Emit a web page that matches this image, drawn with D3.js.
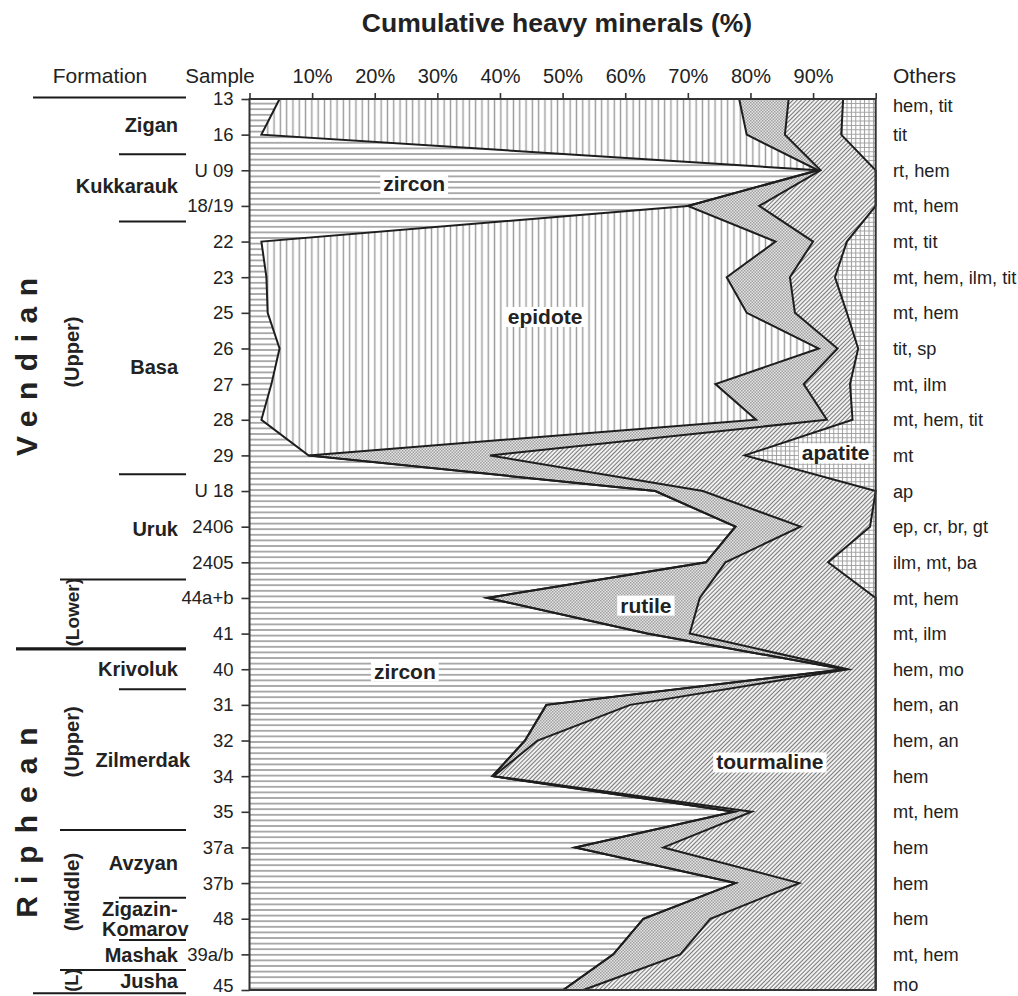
<!DOCTYPE html>
<html><head><meta charset="utf-8">
<script src="https://cdn.jsdelivr.net/npm/d3@7"></script>
<style>
body{margin:0;background:#fff;}
svg{display:block;font-family:"Liberation Sans",Arial,Helvetica,sans-serif;}
</style>
</head><body>
<svg id="chart" width="1018" height="996"></svg>
<script>
// ---------- data ----------
const samples = ["13","16","U 09","18/19","22","23","25","26","27","28","29","U 18","2406","2405","44a+b","41","40","31","32","34","35","37a","37b","48","39a/b","45"];
const zircon     = [4.8,1.9,90.8,70.0,1.9,2.7,2.9,4.8,3.5,1.9,9.4,64.8,77.6,72.9,38.0,63.5,95.0,47.4,44.0,38.8,77.4,52.0,77.6,62.9,58.1,50.1];
const epidote    = [73.4,77.5,0,0,82.1,73.5,76.5,86.1,70.9,79.0,0,0,0,0,0,0,0,0,0,0,0,0,0,0,0,0];
const rutile     = [7.9,6.1,0.4,11.4,6.0,10.1,7.7,3.0,14.1,11.3,29.0,7.6,10.4,3.1,33.9,6.8,0.6,13.4,2.0,0.2,2.8,14.1,10.2,10.7,10.7,3.2];
const tourmaline = [8.7,9.0,8.8,18.6,5.4,7.2,8.3,3.3,7.4,4.1,40.7,27.6,11.1,16.4,28.1,29.7,4.4,39.2,54.0,61.0,19.8,33.9,12.2,26.4,31.2,46.7];
const apatite    = [5.2,5.5,0,0,4.6,6.5,4.6,2.8,4.1,3.7,20.9,0,0.9,7.6,0,0,0,0,0,0,0,0,0,0,0,0];
const others = ["hem, tit","tit","rt, hem","mt, hem","mt, tit","mt, hem, ilm, tit","mt, hem","tit, sp","mt, ilm","mt, hem, tit","mt","ap","ep, cr, br, gt","ilm, mt, ba","mt, hem","mt, ilm","hem, mo","hem, an","hem, an","hem","mt, hem","hem","hem","hem","mt, hem","mo"];
const xTickValues = [0,10,20,30,40,50,60,70,80,90,100];
const formations = ["Zigan","Kukkarauk","Basa","Uruk","Krivoluk","Zilmerdak","Avzyan","Zigazin-|Komarov","Mashak","Jusha"];
const minerals = ["zircon","epidote","rutile","tourmaline","apatite"];

// ---------- layout ----------
const svg = d3.select("#chart");
const x = d3.scaleLinear().domain([0,100]).range([249.5, 875.7]);
const y = d3.scalePoint().domain(samples).range([99, 990]);
const step = y.step();
const yAt = i => y.range()[0] + i*step;

// ---------- patterns ----------
const defs = svg.append("defs");
function pattern(id, w, h, tr){
  const p = defs.append("pattern").attr("id", id).attr("patternUnits","userSpaceOnUse")
    .attr("width", w).attr("height", h);
  if (tr) p.attr("patternTransform", tr);
  return p;
}
let p;
p = pattern("p-zircon", 8, 5.6);
p.append("rect").attr("width",8).attr("height",5.6).attr("fill","#fff");
p.append("line").attr("x1",0).attr("x2",8).attr("y1",2.8).attr("y2",2.8).attr("stroke","#9a9a9a").attr("stroke-width",1.6);

p = pattern("p-epidote", 6.3, 8);
p.append("rect").attr("width",6.3).attr("height",8).attr("fill","#fff");
p.append("line").attr("x1",3.15).attr("x2",3.15).attr("y1",0).attr("y2",8).attr("stroke","#9a9a9a").attr("stroke-width",1.4);

p = pattern("p-rutile", 3, 3);
p.append("rect").attr("width",3).attr("height",3).attr("fill","#e4e4e4");
p.append("rect").attr("width",1.5).attr("height",1.5).attr("fill","#a0a0a0");
p.append("rect").attr("x",1.5).attr("y",1.5).attr("width",1.5).attr("height",1.5).attr("fill","#a0a0a0");

p = pattern("p-tourmaline", 3, 8, "rotate(45)");
p.append("rect").attr("width",3).attr("height",8).attr("fill","#f0f0f0");
p.append("line").attr("x1",1.5).attr("x2",1.5).attr("y1",0).attr("y2",8).attr("stroke","#7a7a7a").attr("stroke-width",1);

p = pattern("p-apatite", 4.4, 4.4);
p.append("rect").attr("width",4.4).attr("height",4.4).attr("fill","#fff");
p.append("path").attr("d","M0,2.2H4.4M2.2,0V4.4").attr("stroke","#9c9c9c").attr("stroke-width",1);

// ---------- stacked areas ----------
const rows = samples.map((s,i)=>({sample:s, zircon:zircon[i], epidote:epidote[i], rutile:rutile[i], tourmaline:tourmaline[i], apatite:apatite[i]}));
const series = d3.stack().keys(minerals)(rows);

const area = d3.area().y(d=>y(d.data.sample)).x0(d=>x(d[0])).x1(d=>x(d[1]));
const line = d3.line().y(d=>y(d.data.sample)).x(d=>x(d[1]));

const plot = svg.append("g");
plot.selectAll("path.area").data(series).join("path")
  .attr("class","area")
  .attr("d", area)
  .attr("fill", d=>`url(#p-${d.key})`);

plot.selectAll("path.bound").data(series.slice(0,4)).join("path")
  .attr("class","bound")
  .attr("d", line)
  .attr("fill","none").attr("stroke","#1e1e1e").attr("stroke-width",2)
  .attr("stroke-linejoin","miter").attr("stroke-miterlimit",6);

// frame
svg.append("rect")
  .attr("x", x(0)).attr("y", y(samples[0]))
  .attr("width", x(100)-x(0)).attr("height", y(samples[samples.length-1])-y(samples[0]))
  .attr("fill","none").attr("stroke","#333").attr("stroke-width",2);

// ---------- axes ----------
const topAxis = svg.append("g").attr("transform",`translate(0,${y(samples[0])})`)
  .call(d3.axisTop(x).tickValues(xTickValues).tickSize(6).tickPadding(10)
    .tickFormat(d => (d>0 && d<100) ? d+"%" : ""));
topAxis.select(".domain").remove();
topAxis.selectAll(".tick line").attr("stroke","#333").attr("stroke-width",1.6);
topAxis.selectAll(".tick text").attr("font-size",20).attr("fill","#222").attr("font-family",null);

const leftAxis = svg.append("g").attr("transform",`translate(${x(0)},0)`)
  .call(d3.axisLeft(y).tickSize(8).tickPadding(8));
leftAxis.select(".domain").remove();
leftAxis.selectAll(".tick line").attr("stroke","#333").attr("stroke-width",1.6);
leftAxis.selectAll(".tick text").attr("font-size",18.5).attr("fill","#222").attr("font-family",null)
  .attr("y", (d,i)=> i===samples.length-1 ? -4 : 0);

// ---------- headers ----------
svg.append("text").attr("x",557).attr("y",32).attr("text-anchor","middle")
  .attr("font-size",26.5).attr("font-weight","bold").attr("fill","#222")
  .text("Cumulative heavy minerals (%)");
svg.append("text").attr("x",100).attr("y",83).attr("text-anchor","middle")
  .attr("font-size",21).attr("fill","#222").text("Formation");
svg.append("text").attr("x",220).attr("y",83).attr("text-anchor","middle")
  .attr("font-size",20.5).attr("fill","#222").text("Sample");
svg.append("text").attr("x",893).attr("y",83)
  .attr("font-size",21).attr("fill","#222").text("Others");

// others column
svg.append("g").selectAll("text").data(others).join("text")
  .attr("x",893).attr("y",(d,i)=>y(samples[i]) + (i===0?6:0) + (i===others.length-1?-6:0)).attr("dy","0.36em")
  .attr("font-size",18.2).attr("fill","#222").text(d=>d);

// ---------- stratigraphy column ----------
const strat = svg.append("g");
const divisions = [
  {i:-0.04, x1:33, w:2}, {i:1.55, x1:119, w:2}, {i:3.44, x1:119, w:2}, {i:10.53, x1:119, w:2},
  {i:13.48, x1:60, w:2}, {i:15.43, x1:16, w:3.2}, {i:16.56, x1:119, w:2}, {i:20.51, x1:60, w:2},
  {i:22.41, x1:119, w:2}, {i:23.6, x1:119, w:2}, {i:24.44, x1:60, w:2}, {i:25.09, x1:33, w:2}
];
strat.selectAll("line").data(divisions).join("line")
  .attr("x1",d=>d.x1).attr("x2",186)
  .attr("y1",d=>yAt(d.i)).attr("y2",d=>yAt(d.i))
  .attr("stroke","#1a1a1a").attr("stroke-width",d=>d.w);

const formPos = [
  {i:0.73, x:178, a:"end"}, {i:2.44, x:178, a:"end"}, {i:7.52, x:178, a:"end"}, {i:12.06, x:178, a:"end"},
  {i:16.0, x:178, a:"end"}, {i:18.55, x:190, a:"end"}, {i:21.44, x:178, a:"end"}, {i:23.0, x:102, a:"start"},
  {i:24.0, x:178, a:"end"}, {i:24.75, x:178, a:"end"}
];
formations.forEach((name,k)=>{
  const pz = formPos[k];
  const parts = name.split("|");
  const t = strat.append("text").attr("x",pz.x).attr("text-anchor",pz.a)
    .attr("font-size",20).attr("font-weight","bold").attr("fill","#222");
  parts.forEach((s,j)=>{
    t.append("tspan").attr("x",pz.x)
      .attr("y", yAt(pz.i) + (j - (parts.length-1)/2)*20)
      .attr("dy","0.36em").text(s);
  });
});

// systems (rotated)
const systems = [{t:"Vendian", i:7.52, ls:10.5}, {t:"Riphean", i:20.3, ls:12}];
systems.forEach(s=>{
  strat.append("text")
    .attr("transform",`translate(26,${yAt(s.i)}) rotate(-90)`)
    .attr("x", s.ls/2).attr("text-anchor","middle").attr("dy","0.36em")
    .attr("font-size",30).attr("font-weight","bold").attr("letter-spacing",s.ls)
    .attr("fill","#222").text(s.t);
});
const subs = [{t:"(Upper)", i:7.1, fs:20}, {t:"(Lower)", i:14.4, fs:19}, {t:"(Upper)", i:18.04, fs:20}, {t:"(Middle)", i:22.25, fs:20.5}, {t:"(L)", i:24.73, fs:18}];
subs.forEach(s=>{
  strat.append("text")
    .attr("transform",`translate(72,${yAt(s.i)}) rotate(-90)`)
    .attr("text-anchor","middle").attr("dy","0.36em")
    .attr("font-size",s.fs).attr("font-weight","bold").attr("fill","#222").text(s.t);
});

// ---------- in-plot labels ----------
const plotLabels = [
  {t:"zircon", v:26.3, i:2.38}, {t:"epidote", v:47.2, i:6.1}, {t:"rutile", v:63.3, i:14.2},
  {t:"zircon", v:24.8, i:16.05}, {t:"tourmaline", v:83.1, i:18.6}, {t:"apatite", v:93.6, i:9.93}
];
const lg = svg.append("g");
plotLabels.forEach(l=>{
  const g = lg.append("g");
  const t = g.append("text").attr("x", x(l.v)).attr("y", yAt(l.i)).attr("dy","0.36em")
    .attr("text-anchor","middle").attr("font-size",21).attr("font-weight","bold")
    .attr("fill","#222").text(l.t);
  const b = t.node().getBBox();
  g.insert("rect","text").attr("x",b.x-3).attr("y",b.y+2).attr("width",b.width+6).attr("height",b.height-3)
    .attr("fill","#fff");
});
</script>
</body></html>
